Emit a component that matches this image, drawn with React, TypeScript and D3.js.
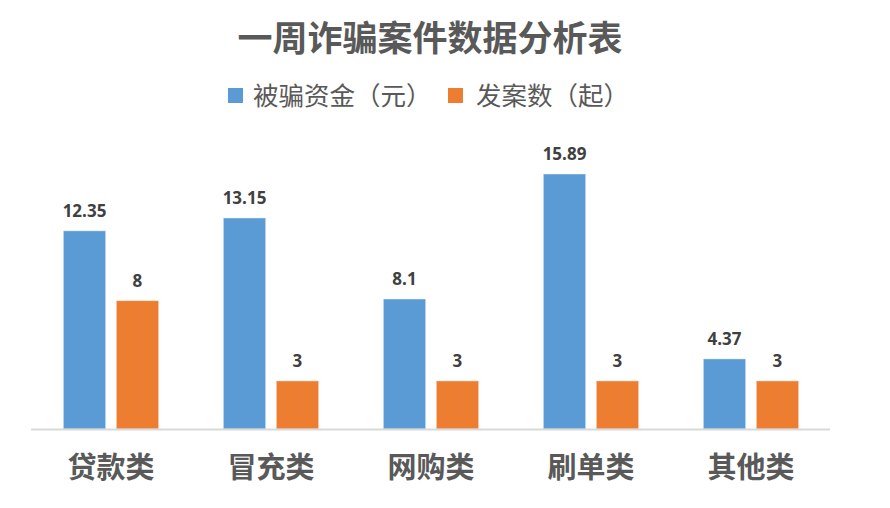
import { scaleBand, scaleLinear } from 'd3';

const WIDTH = 890;
const HEIGHT = 508;
const BLUE = '#5b9bd5';
const ORANGE = '#ed7d31';
const CJK = '"Noto Sans CJK SC", "Noto Sans", sans-serif';

const TITLE = '一周诈骗案件数据分析表';
const categories = ['贷款类', '冒充类', '网购类', '刷单类', '其他类'];
const seriesNames = ['被骗资金（元）', '发案数（起）'];
const funds = [12.35, 13.15, 8.1, 15.89, 4.37];
const cases = [8, 3, 3, 3, 3];
const seriesValues = [funds, cases];
const seriesColors = [BLUE, ORANGE];

const BASELINE = 429;

export default function App() {
  const x = scaleBand<string>()
    .domain(categories)
    .range([31, 831])
    .paddingInner(0.404)
    .paddingOuter(0.202);

  const xInner = scaleBand<number>()
    .domain([0, 1])
    .range([0, x.bandwidth()])
    .paddingInner(0.2);

  const y = scaleLinear().domain([0, 18]).range([BASELINE, BASELINE - 18 * 16.05]);

  return (
    <div style={{ position: 'absolute', left: 0, top: 0 }}>
      <svg width={WIDTH} height={HEIGHT} style={{ display: 'block', background: '#fff' }}>
        {/* title */}
        <text
          x={430}
          y={51}
          textAnchor="middle"
          fontFamily={CJK}
          fontWeight={700}
          fontSize={35}
          fill="#595959"
        >
          {TITLE}
        </text>

        {/* legend */}
        <g>
          <rect x={228} y={88} width={15} height={15} fill={BLUE} />
          <text x={253} y={104.5} fontFamily={CJK} fontSize={25.5} fill="#595959">
            {seriesNames[0]}
          </text>
          <rect x={448} y={88} width={15} height={15} fill={ORANGE} />
          <text x={476} y={104.5} fontFamily={CJK} fontSize={25.5} fill="#595959">
            {seriesNames[1]}
          </text>
        </g>

        {/* bars */}
        {categories.map((c, i) => (
          <g key={c} transform={`translate(${x(c)},0)`}>
            {seriesValues.map((vals, s) => {
              const bx = xInner(s) ?? 0;
              const top = y(vals[i]);
              return (
                <g key={s}>
                  <rect
                    x={bx}
                    y={top}
                    width={xInner.bandwidth()}
                    height={y(0) - top}
                    fill={seriesColors[s]}
                    stroke="#ffffff"
                    strokeOpacity={0.45}
                    strokeWidth={1}
                  />
                  <text
                    x={bx + xInner.bandwidth() / 2}
                    y={top - 14}
                    textAnchor="middle"
                    fontFamily='"Open Sans", "DejaVu Sans", sans-serif'
                    fontWeight={700}
                    fontSize={17}
                    fill="#404040"
                  >
                    {vals[i]}
                  </text>
                </g>
              );
            })}
          </g>
        ))}

        {/* axis line */}
        <line x1={31} x2={830} y1={BASELINE + 0.5} y2={BASELINE + 0.5} stroke="#d9d9d9" strokeWidth={2} />

        {/* category labels */}
        {categories.map((c) => (
          <text
            key={c}
            x={(x(c) ?? 0) + x.bandwidth() / 2}
            y={478}
            textAnchor="middle"
            fontFamily={CJK}
            fontWeight={700}
            fontSize={29}
            fill="#595959"
          >
            {c}
          </text>
        ))}
      </svg>
    </div>
  );
}
